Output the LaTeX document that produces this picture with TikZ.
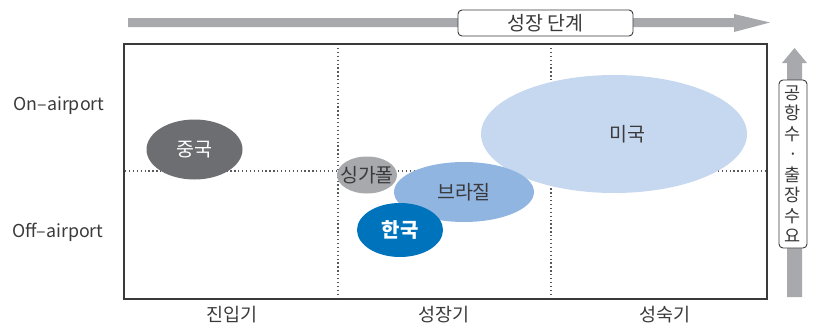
\documentclass[tikz,border=0pt]{standalone}
\usepackage{fontspec}
\setmainfont{Noto Sans CJK KR}
\usetikzlibrary{shapes.geometric}
\definecolor{arrowgray}{HTML}{A7A9AC}
\definecolor{chinac}{HTML}{6D6E71}
\definecolor{singc}{HTML}{A7A9AC}
\definecolor{brazc}{HTML}{8FB5E0}
\definecolor{usac}{HTML}{C6D8EF}
\definecolor{korc}{HTML}{0073BD}
\definecolor{framec}{HTML}{3A3A3C}
\definecolor{dotc}{HTML}{58595B}
\definecolor{textc}{HTML}{3A3A3C}
\tikzset{
  labelbox/.style={draw=framec, line width=0.9pt, rounded corners=4pt, fill=white, text=textc, inner sep=0pt},
  bubble/.style={ellipse, draw=none, inner sep=0pt, font=\fontsize{19.5}{22}\selectfont},
  dotline/.style={draw=dotc, line width=1.3pt, dash pattern=on 1.3pt off 2.6pt},
  frameline/.style={draw=framec, line width=1.5pt},
  axislabel/.style={text=textc, font=\fontsize{18.5}{22}\selectfont, inner sep=0pt},
  sidelabel/.style={text=textc, font=\fontsize{17.8}{22}\selectfont, inner sep=0pt}
}
\newcommand{\zw}[1]{\makebox[0pt]{#1}}
\begin{document}
\begin{tikzpicture}[x=1pt,y=-1pt]
\useasboundingbox (0,0) rectangle (815,327);
% horizontal stage arrow
\fill[arrowgray] (128,18) -- (734,18) -- (734,14) -- (770,22.5) -- (734,32) -- (734,27) -- (128,27) -- cycle;
% vertical demand arrow
\fill[arrowgray] (787,297) -- (787,63) -- (782,63) -- (794.5,48) -- (807,63) -- (802,63) -- (802,297) -- cycle;
\node[labelbox, minimum width=175pt, minimum height=26pt, font=\fontsize{19.5}{22}\selectfont] (stage) at (545.5,23) {성장 단계};
\node[labelbox, minimum width=28pt, minimum height=168pt, align=center, font=\fontsize{17.5}{20.5}\selectfont] (demand) at (793,164) {공\\항\\수\\·\\출\\장\\수\\요};
% frame and dividers
\draw[dotline] (125,171) -- (767,171);
\draw[dotline] (338,44) -- (338,299);
\draw[dotline] (551,44) -- (551,299);
\draw[frameline] (124,44) rectangle (767,299);
% bubbles
\node[bubble, fill=usac, minimum width=266pt, minimum height=118pt, text=textc] (usa) at (614,134) {\zw{\hspace*{26pt}미국}};
\node[bubble, fill=brazc, minimum width=140pt, minimum height=60pt, text=textc] (brazil) at (464,192) {\zw{브라질}};
\node[bubble, fill=korc, minimum width=86pt, minimum height=54pt, text=white, font=\fontsize{20}{22}\selectfont\bfseries] (korea) at (400,230) {\zw{한국}};
\node[bubble, fill=singc, minimum width=60pt, minimum height=37pt, text=textc] (sing) at (367,175) {\zw{싱가폴}};
\node[bubble, fill=chinac, minimum width=96pt, minimum height=60pt, text=white] (china) at (194.5,149.5) {\zw{중국}};
% axis labels
\node[sidelabel] (on) at (59,106) {On–airport};
\node[sidelabel] (off) at (58,232) {Off–airport};
\node[axislabel] (entry) at (232,315) {진입기};
\node[axislabel] (growth) at (444,315) {성장기};
\node[axislabel] (mature) at (665,315) {성숙기};
\end{tikzpicture}
\end{document}
